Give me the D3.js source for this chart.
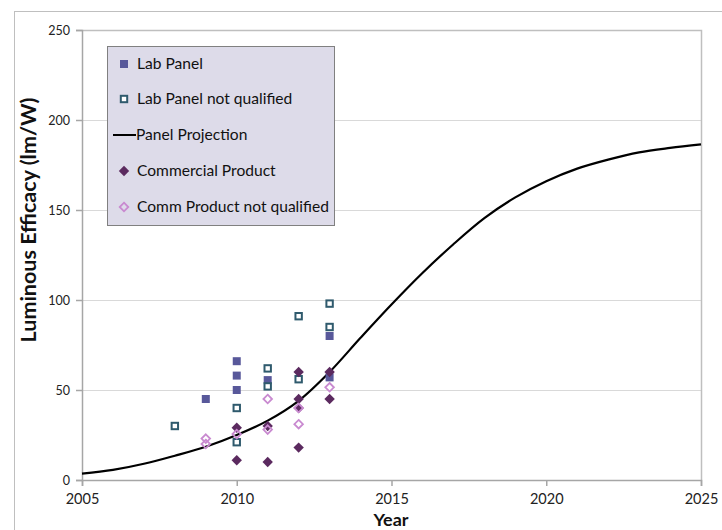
<!DOCTYPE html>
<html><head><meta charset="utf-8">
<script src="https://cdn.jsdelivr.net/npm/d3@7"></script>
<style>body{margin:0;background:#fff}svg{display:block}</style>
</head><body>
<script>
const labPanel = [[2009,45],[2010,66],[2010,58],[2010,50],[2011,55.5],[2013,80],[2013,57]];
const labPanelNQ = [[2008,30],[2010,40],[2010,21],[2011,62],[2011,52],[2012,91],[2012,56],[2013,98],[2013,85]];
const commProduct = [[2010,29],[2010,11],[2011,30],[2011,10],[2012,60],[2012,45],[2012,40],[2012,18],[2013,60],[2013,45]];
const commProductNQ = [[2009,23],[2009,20],[2010,25.5],[2011,45],[2011,28],[2012,40],[2012,31],[2013,51.5]];
const projYears = [2005,2006,2007,2008,2009,2010,2011,2012,2013,2014,2015,2016,2017,2018,2019,2020,2021,2022,2023,2024,2025];
const projValues = [3.5,5.6,9,13.5,18.5,25,33,44,60,79,97.5,115,131,145.5,157,166,173,178,182,184.5,186.5];
const xTicks = [2005,2010,2015,2020,2025];
const yTicks = [0,50,100,150,200,250];
const legendItems = ["Lab Panel","Lab Panel not qualified","Panel Projection","Commercial Product","Comm Product not qualified"];

const W=722,H=530;
const svg=d3.select("body").append("svg").attr("width",W).attr("height",H);
const font="Lato, 'Open Sans', sans-serif";
const x=d3.scaleLinear().domain([2005,2025]).range([82,701]);
const y=d3.scaleLinear().domain([0,250]).range([480,30]);

// scale a text's font so its width matches a target width
function fit(sel, target){
  const n=sel.node(); const fs=+sel.attr("font-size");
  const w=n.getComputedTextLength(); if(w>0) sel.attr("font-size",fs*target/w);
}

svg.append("rect").attr("x",14.5).attr("y",11.5).attr("width",720).attr("height",530).attr("fill","none").attr("stroke","#bfbfbf");

svg.append("g").selectAll("line").data(yTicks.filter(d=>d>0&&d<250)).join("line")
  .attr("x1",x(2005)).attr("x2",x(2025)).attr("y1",d=>Math.round(y(d))+0.5).attr("y2",d=>Math.round(y(d))+0.5)
  .attr("stroke","#d9d9d9").attr("stroke-width",1.2);
svg.append("path").attr("d",`M${x(2005)},${y(250)+0.5}H${x(2025)+0.5}V${y(0)}`).attr("fill","none").attr("stroke","#bfbfbf").attr("stroke-width",1.5);

const yAxis=svg.append("g").attr("transform",`translate(${x(2005)},0)`)
  .call(d3.axisLeft(y).tickValues(yTicks).tickSize(6).tickPadding(6));
const xAxis=svg.append("g").attr("transform",`translate(0,${y(0)})`)
  .call(d3.axisBottom(x).tickValues(xTicks).tickFormat(d3.format("d")).tickSize(6).tickPadding(8));
[yAxis,xAxis].forEach(g=>{
  g.selectAll("path,line").attr("stroke","#a6a6a6").attr("stroke-width",1.5);
  g.selectAll("text").attr("font-family",font).attr("fill","#222");
});
yAxis.selectAll("text").attr("font-size",12.5);
xAxis.selectAll("text").attr("font-size",14.5);

const yt=svg.append("text").attr("transform","translate(28,220) rotate(-90)").attr("text-anchor","middle").attr("dy","0.35em")
  .attr("font-family",font).attr("font-size",15).attr("font-weight","bold").attr("fill","#111").text("Luminous Efficacy (lm/W)");
fit(yt,245);
const xt=svg.append("text").attr("x",391).attr("y",520).attr("dy","0.35em").attr("text-anchor","middle")
  .attr("font-family",font).attr("font-size",15).attr("font-weight","bold").attr("fill","#111").text("Year");
fit(xt,35);

const line=d3.line().x(d=>x(d[0])).y(d=>y(d[1])).curve(d3.curveCatmullRom);
svg.append("path").datum(projYears.map((yr,i)=>[yr,projValues[i]])).attr("d",line)
  .attr("fill","none").attr("stroke","#000").attr("stroke-width",2.2);

const C={lab:"#58589a",labNQ:"#2f5a6d",comm:"#5b2a5f",commNQ:"#c98ad0"};
const diamond=(s)=>`M0,${-s}L${s},0L0,${s}L${-s},0Z`;

svg.append("g").selectAll("rect").data(labPanel).join("rect")
  .attr("x",d=>x(d[0])-4).attr("y",d=>y(d[1])-4).attr("width",8).attr("height",8).attr("fill",C.lab);
svg.append("g").selectAll("rect").data(labPanelNQ).join("rect")
  .attr("x",d=>x(d[0])-3.2).attr("y",d=>y(d[1])-3.2).attr("width",6.4).attr("height",6.4)
  .attr("fill","#fff").attr("stroke",C.labNQ).attr("stroke-width",2);
svg.append("g").selectAll("path").data(commProduct).join("path")
  .attr("transform",d=>`translate(${x(d[0])},${y(d[1])})`).attr("d",diamond(5.2)).attr("fill",C.comm);
svg.append("g").selectAll("path").data(commProductNQ).join("path")
  .attr("transform",d=>`translate(${x(d[0])},${y(d[1])})`).attr("d",diamond(4.3)).attr("fill","none")
  .attr("stroke",C.commNQ).attr("stroke-width",1.8);

const lg=svg.append("g");
lg.append("rect").attr("x",107.5).attr("y",46.5).attr("width",227).attr("height",179)
  .attr("fill","#dddbe9").attr("stroke","#808080").attr("stroke-width",1);
const ly=[64,99,135,171,207];
const lt=legendItems.map((t,i)=>lg.append("text").attr("x",i===2?136:137).attr("y",ly[i]).attr("dy","0.35em").attr("font-family",font)
    .attr("font-size",14).attr("fill","#111").text(t));
const lw=lt[4].node().getComputedTextLength();
lt.forEach(s=>s.attr("font-size",14*192/lw));
lg.append("rect").attr("x",120).attr("y",ly[0]-4).attr("width",8).attr("height",8).attr("fill",C.lab);
lg.append("rect").attr("x",120.8).attr("y",ly[1]-3.2).attr("width",6.4).attr("height",6.4).attr("fill","#fff").attr("stroke",C.labNQ).attr("stroke-width",2);
lg.append("line").attr("x1",113).attr("x2",136).attr("y1",ly[2]).attr("y2",ly[2]).attr("stroke","#000").attr("stroke-width",2);
lg.append("path").attr("transform",`translate(124,${ly[3]})`).attr("d",diamond(5.2)).attr("fill",C.comm);
lg.append("path").attr("transform",`translate(124,${ly[4]})`).attr("d",diamond(4.3)).attr("fill","none").attr("stroke",C.commNQ).attr("stroke-width",1.8);
</script>
</body></html>
